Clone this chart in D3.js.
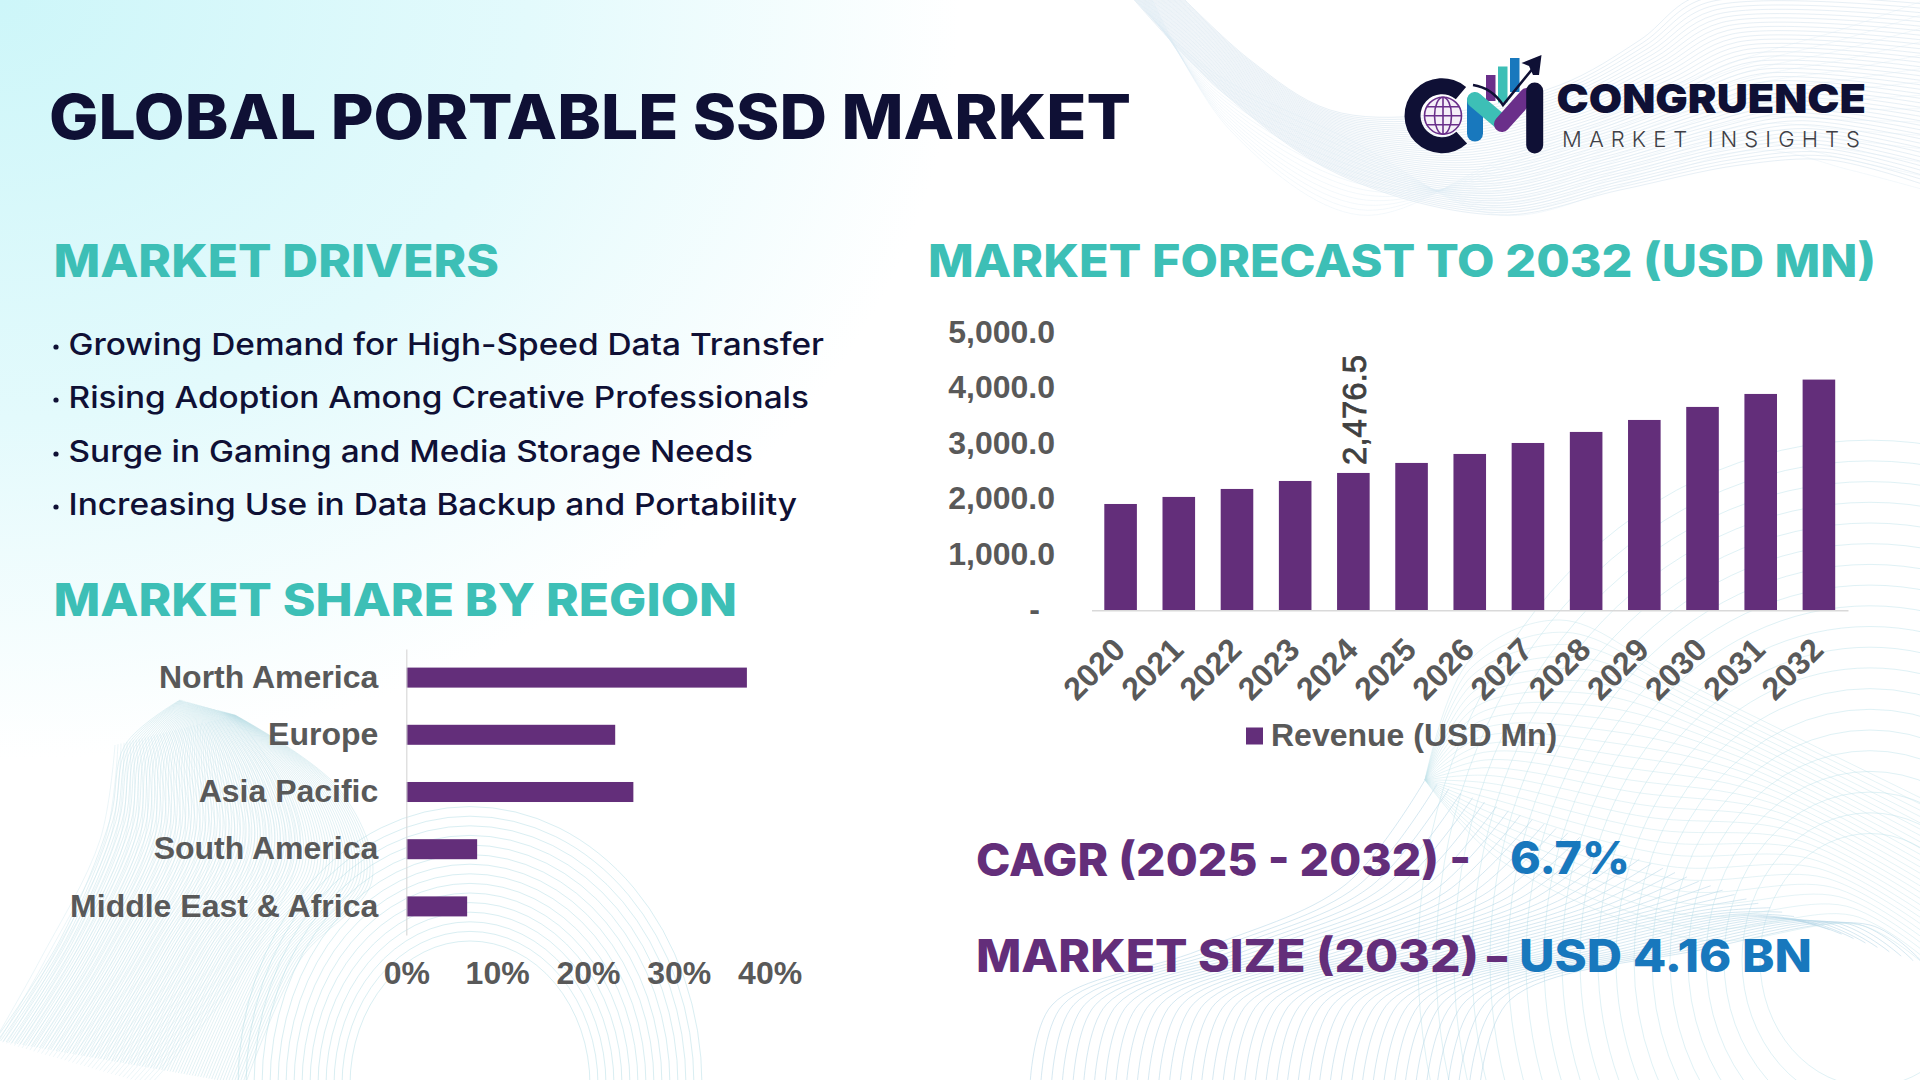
<!DOCTYPE html>
<html lang="en">
<head>
<meta charset="UTF-8">
<title>Global Portable SSD Market</title>
<style>
    body { margin: 0; background: #fff; }
    svg { display: block; }
    text { font-family: Inter, "Noto Sans", sans-serif; }
    .axis text { font-family: "Liberation Sans", Arial, sans-serif; font-weight: 700; font-size: 32px; fill: #595959; }
    .axis path { display: none; }
</style>
</head>
<body>
<svg id="chart" width="1920" height="1080"></svg>
<script src="https://d3js.org/d3.v7.min.js"></script>
<script>
// chart values
const years = [2020, 2021, 2022, 2023, 2024, 2025, 2026, 2027, 2028, 2029, 2030, 2031, 2032];
const revenue = [1917, 2044, 2188, 2332, 2476.5, 2657, 2819, 3017, 3216, 3432, 3667, 3901, 4160];
const revenueTicks = [0, 1000, 2000, 3000, 4000, 5000];
const regions = ["North America", "Europe", "Asia Pacific", "South America", "Middle East & Africa"];
const regionShare = [37.5, 23, 25, 7.8, 6.7];
const shareTicks = [0, 10, 20, 30, 40];
const drivers = [
    "Growing Demand for High-Speed Data Transfer",
    "Rising Adoption Among Creative Professionals",
    "Surge in Gaming and Media Storage Needs",
    "Increasing Use in Data Backup and Portability"
];

const purple = "#632e7a", teal = "#3dbfb6", navy = "#0f1035", blue = "#1878bd";
const svg = d3.select("#chart");

// background tint
const defs = svg.append("defs");
const tint = defs.append("radialGradient").attr("id", "tint")
    .attr("gradientUnits", "userSpaceOnUse")
    .attr("cx", 0).attr("cy", 0).attr("r", 1)
    .attr("gradientTransform", "scale(960,760)");
tint.append("stop").attr("offset", 0).attr("stop-color", "#cdf6f9");
tint.append("stop").attr("offset", 0.55).attr("stop-color", "#e3fafc");
tint.append("stop").attr("offset", 1).attr("stop-color", "#ffffff");
svg.append("rect").attr("width", 1920).attr("height", 1080).attr("fill", "#fff");
svg.append("rect").attr("width", 1000).attr("height", 800).attr("fill", "url(#tint)");

// mesh waves: a bundle of lines swept between two edge curves
const bg = svg.append("g").attr("fill", "none");
const curve = d3.line().curve(d3.curveCatmullRom.alpha(0.5));
function wave(a, b, n, color, opacity) {
    const mix = d3.interpolate(a, b);
    d3.range(n + 1).forEach(i => {
        bg.append("path").attr("d", curve(mix(i / n)))
            .attr("stroke", color).attr("stroke-width", 1).attr("stroke-opacity", opacity);
    });
}
function arcs(cx, cy, radii, ratio, color, opacity) {
    radii.forEach(r => {
        bg.append("ellipse").attr("cx", cx).attr("cy", cy).attr("rx", r).attr("ry", r * ratio)
            .attr("stroke", color).attr("stroke-width", 1).attr("stroke-opacity", opacity);
    });
}
// top right
wave([[1130, -5], [1220, 90], [1340, 175], [1500, 215], [1620, 190], [1740, 165], [1830, 160], [1925, 185]],
     [[1180, -5], [1250, 60], [1330, 110], [1430, 115], [1560, 85], [1640, 40], [1700, -5], [1925, -5]],
     42, "#cfe0ec", 0.5);
wave([[1150, -5], [1230, 130], [1360, 215], [1500, 160], [1620, 110], [1740, 60], [1840, 30], [1925, 0]],
     [[1130, -5], [1210, 70], [1350, 140], [1500, 215], [1640, 180], [1760, 150], [1850, 170], [1925, 190]],
     14, "#dcebf3", 0.35);
// bottom left
wave([[180, 700], [125, 745], [110, 820], [60, 940], [-5, 1040]],
     [[235, 715], [340, 790], [372, 880], [300, 960], [245, 1085]],
     90, "#b4d9e3", 0.38);
wave([[115, 745], [100, 840], [40, 960], [-5, 1040]],
     [[235, 715], [300, 830], [250, 960], [150, 1085]],
     40, "#c6e2ea", 0.35);
arcs(470, 1085, d3.range(120, 235, 8), 1.2, "#b4dde5", 0.5);
// bottom right
arcs(1870, 960, d3.range(110, 470, 18), 1.15, "#bfe3ec", 0.5);
wave([[1030, 1085], [1052, 1005], [1200, 950], [1345, 885], [1425, 780]],
     [[1480, 1085], [1510, 1000], [1700, 950], [1870, 925], [1925, 965]],
     42, "#b4d6e6", 0.55);
wave([[1425, 780], [1470, 660], [1560, 620], [1680, 680], [1925, 800]],
     [[1425, 780], [1500, 860], [1700, 940], [1860, 925], [1925, 965]],
     26, "#c6e4ec", 0.45);

// fixed-width text, fitted to the measured span
function fit(x, x2, y, text, size, weight, fill) {
    return svg.append("text").attr("x", x).attr("y", y).text(text)
        .attr("font-size", size).attr("font-weight", weight).attr("fill", fill)
        .attr("textLength", x2 - x).attr("lengthAdjust", "spacingAndGlyphs");
}

fit(49, 1131, 139, "GLOBAL PORTABLE SSD MARKET", 62, 800, navy);
fit(53.5, 499, 277, "MARKET DRIVERS", 45, 800, teal);
fit(928, 1876, 277, "MARKET FORECAST TO 2032 (USD MN)", 45, 800, teal);
fit(53.5, 737, 616, "MARKET SHARE BY REGION", 45, 800, teal);

// driver list
const driverEnds = [824, 809, 753, 797];
const driverBase = [355, 408, 462, 515];
drivers.forEach((d, i) => {
    svg.append("circle").attr("cx", 56).attr("cy", driverBase[i] - 8).attr("r", 2.6).attr("fill", navy);
    fit(68.5, driverEnds[i], driverBase[i], d, 30, 500, navy);
});

// revenue columns
const x = d3.scaleBand().domain(years).range([1091.5, 1848]).paddingInner(0.44).paddingOuter(0.22);
const y = d3.scaleLinear().domain([0, 5000]).range([610.3, 333]);

const yAxis = svg.append("g").attr("class", "axis").attr("transform", "translate(1055,-1)")
    .call(d3.axisLeft(y).tickValues(revenueTicks).tickSize(0).tickPadding(0)
        .tickFormat(d => d === 0 ? "-" : d3.format(",.1f")(d)));
yAxis.selectAll(".tick").filter(d => d === 0).select("text").attr("dx", -15);

svg.selectAll(".col").data(years).enter().append("rect").attr("class", "col")
    .attr("x", d => x(d)).attr("width", x.bandwidth())
    .attr("y", (d, i) => y(revenue[i])).attr("height", (d, i) => y(0) - y(revenue[i]))
    .attr("fill", purple);

const xAxis = svg.append("g").attr("class", "axis").attr("transform", "translate(0,610.3)")
    .call(d3.axisBottom(x).tickSize(0).tickPadding(0));
xAxis.select(".domain").style("display", "inline").attr("stroke", "#d9d9d9").attr("stroke-width", 1.5);
xAxis.selectAll("text").attr("text-anchor", "end").attr("dy", "0.35em").attr("y", 0)
    .attr("transform", "translate(-1.5,33.5) rotate(-45)");

// the one labelled column
svg.append("text")
    .attr("transform", `translate(${x(2024) + x.bandwidth() / 2 + 1},${y(revenue[4]) - 8}) rotate(-90)`)
    .attr("dy", "0.35em")
    .style("font-family", "'Liberation Sans', Arial, sans-serif")
    .attr("font-size", 33).attr("fill", "#404040").attr("stroke", "#404040").attr("stroke-width", 0.8)
    .text(d3.format(",.1f")(revenue[4]));

// legend
svg.append("rect").attr("x", 1246).attr("y", 727.5).attr("width", 17).attr("height", 17).attr("fill", purple);
svg.append("text").attr("x", 1271).attr("y", 746)
    .style("font-family", "'Liberation Sans', Arial, sans-serif")
    .attr("font-size", 32).attr("font-weight", 700).attr("fill", "#595959").text("Revenue (USD Mn)");

// region share bars
const sx = d3.scaleLinear().domain([0, 40]).range([406.3, 769.6]);
const sy = d3.scaleBand().domain(regions).range([649, 935]).paddingInner(0.65).paddingOuter(0.325);

svg.selectAll(".share").data(regions).enter().append("rect").attr("class", "share")
    .attr("x", sx(0)).attr("y", d => sy(d)).attr("height", sy.bandwidth())
    .attr("width", (d, i) => sx(regionShare[i]) - sx(0)).attr("fill", purple);

const regionAxis = svg.append("g").attr("class", "axis").attr("transform", `translate(${sx(0)},0)`)
    .call(d3.axisLeft(sy).tickSize(0).tickPadding(28));
regionAxis.select(".domain").style("display", "inline").attr("stroke", "#d9d9d9").attr("stroke-width", 1.2);

svg.append("g").attr("class", "axis").attr("transform", "translate(0,935)")
    .call(d3.axisBottom(sx).tickValues(shareTicks).tickSize(0).tickPadding(26).tickFormat(d => d + "%"));

// key figures
fit(976, 1471, 876, "CAGR (2025 - 2032) -", 45, 800, purple);
fit(1510, 1630, 874, "6.7%", 45, 800, blue);
fit(976, 1479, 972, "MARKET SIZE (2032)", 45, 800, purple);
fit(1487, 1507, 972, "–", 45, 800, purple);
fit(1519, 1812, 972, "USD 4.16 BN", 45, 800, blue);

// logo
const logo = svg.append("g");
const deg = Math.PI / 180;
logo.append("path").attr("transform", "translate(1442,115.7)").attr("fill", navy)
    .attr("d", d3.arc().innerRadius(21.5).outerRadius(37.5).startAngle(138 * deg).endAngle(400 * deg)());
const globe = logo.append("g").attr("transform", "translate(1443,115.7)")
    .attr("fill", "none").attr("stroke", "#6a2f8a").attr("stroke-width", 1.6);
globe.append("circle").attr("r", 18.5).attr("fill", "#f5eff8");
globe.append("ellipse").attr("rx", 8.5).attr("ry", 18.5);
[-9, 0, 9].forEach(v => {
    const w = Math.sqrt(18.5 * 18.5 - v * v);
    globe.append("line").attr("x1", -w).attr("x2", w).attr("y1", v).attr("y2", v);
});
globe.append("line").attr("y1", -18.5).attr("y2", 18.5);

[[1486, 75, "#6a2f8a", 26], [1498, 66.5, teal, 36], [1510, 58, blue, 34]].forEach(b => {
    logo.append("rect").attr("x", b[0]).attr("y", b[1]).attr("width", 9.5).attr("height", b[3]).attr("fill", b[2]);
});
const stroke = (x1, y1, x2, y2, color, w, cap) => logo.append("line")
    .attr("x1", x1).attr("y1", y1).attr("x2", x2).attr("y2", y2)
    .attr("stroke", color).attr("stroke-width", w).attr("stroke-linecap", cap);
stroke(1475, 101, 1475, 133.5, blue, 16, "round");
stroke(1475, 100, 1501, 122, teal, 16, "round");
stroke(1502, 124, 1527, 96, "#6a2f8a", 16, "round");
logo.append("path").attr("fill", "none").attr("stroke", navy).attr("stroke-width", 2.6)
    .attr("d", "M1473,85 Q1492,88 1503,105 L1534,67");
logo.append("path").attr("fill", navy).attr("d", "M1541.5,55 L1521.5,63 L1529,66 L1533,75 L1539,75 Z");
stroke(1534.7, 91, 1534.7, 145, navy, 17, "round");

fit(1556.5, 1866, 113, "CONGRUENCE", 40, 900, navy);
fit(1562, 1860, 146.7, "MARKET INSIGHTS", 22, 300, "#3f3f46").attr("lengthAdjust", "spacing");
</script>
</body>
</html>
